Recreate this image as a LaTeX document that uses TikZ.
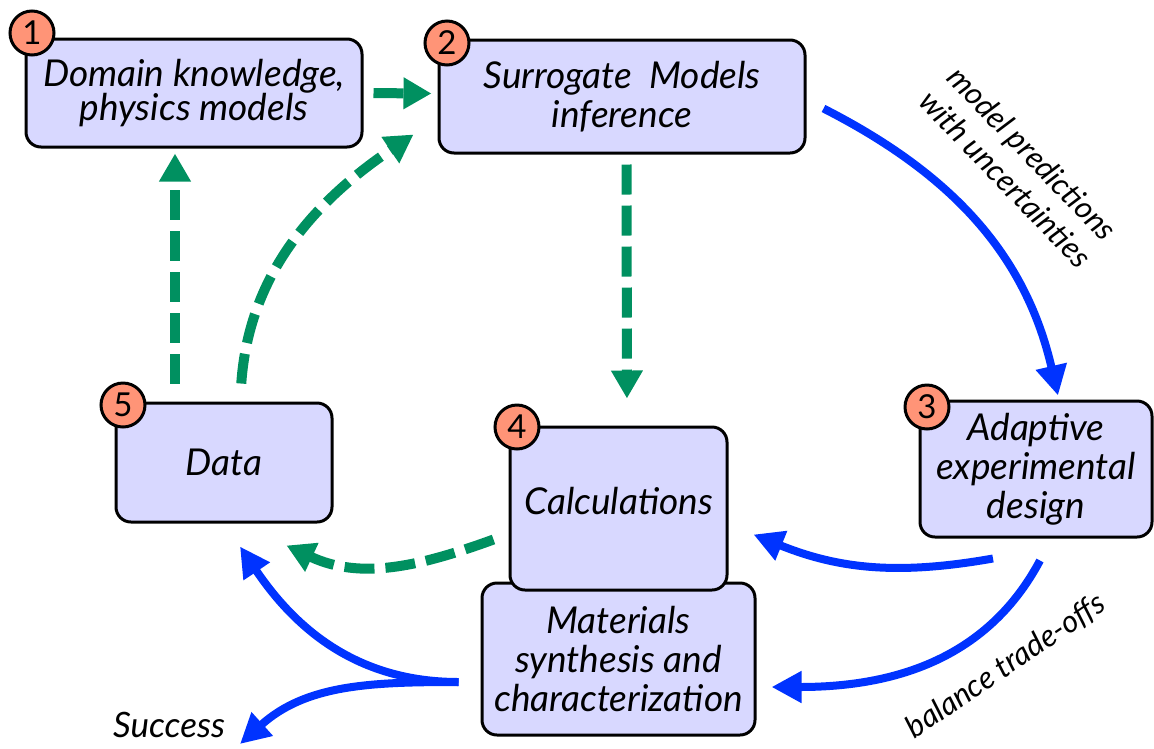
\documentclass[tikz,border=0pt]{standalone}
\usepackage{fontspec}
\setmainfont{Lato}
\usetikzlibrary{arrows.meta}
\definecolor{boxfill}{HTML}{D8D8FF}
\definecolor{badgefill}{HTML}{FF9477}
\definecolor{flowgreen}{HTML}{009060}
\definecolor{flowblue}{HTML}{0033FF}
\begin{document}
\begin{tikzpicture}[x=1pt,y=-1pt,
  stage/.style={draw=black, line width=3pt, fill=boxfill, rounded corners=15pt,
    align=center, inner sep=0pt, font=\fontsize{37}{39}\selectfont\itshape},
  badge/.style={circle, draw=black, line width=3pt, fill=badgefill,
    minimum size=44pt, inner sep=0pt, font=\fontsize{33}{33}\selectfont},
  gflow/.style={draw=flowgreen, line width=10pt, dash pattern=on 30pt off 11pt,
    -{Triangle[length=28pt,width=30pt]}},
  bflow/.style={draw=flowblue, line width=8pt,
    -{Triangle[length=30pt,width=30pt]}},
  note/.style={font=\fontsize{31}{37}\selectfont\itshape, align=center, inner sep=0pt}
  ]
\useasboundingbox (0,0) rectangle (1154,748);

% stages
\node[stage, minimum width=336pt, minimum height=108pt, font=\fontsize{37}{34}\selectfont\itshape] (b1) at (194,93) {Domain knowledge,\\physics models};
\node[stage, minimum width=366pt, minimum height=113pt] (b2) at (622,96.5) {Surrogate\ \ Models\\inference};
\node[stage, minimum width=232pt, minimum height=136pt] (b3) at (1036,469) {Adaptive\\experimental\\design};
\node[stage, minimum width=273pt, minimum height=152pt] (b6) at (618.5,659) {Materials\\synthesis and\\characterization};
\node[stage, minimum width=217pt, minimum height=163pt] (b4) at (618.5,508.5) {\raisebox{16pt}{Calculations}};
\node[stage, minimum width=216pt, minimum height=119pt] (b5) at (224,462.5) {Data};

% numbered badges
\node[badge] (n1) at (32,33) {1};
\node[badge] (n2) at (447,43) {2};
\node[badge] (n3) at (927,407) {3};
\node[badge] (n4) at (517,427) {4};
\node[badge] (n5) at (123,405) {5};

% knowledge / data flow
\draw[gflow, shorten <=10pt] (b1.east) -- ([shift={(-6,-3)}]b2.west);
\draw[gflow, shorten <=18pt, shorten >=5pt] ([xshift=-49pt]b5.north) -- ([xshift=-19pt]b1.south);
\draw[gflow, shorten <=18pt] ([xshift=16pt]b5.north) to[out=86, in=-146] ([shift={(-24,-20)}]b2.south west);
\draw[gflow, shorten <=10pt, shorten >=27pt] ([xshift=4.5pt]b2.south) -- ([xshift=8.5pt]b4.north);
\draw[gflow] ([shift={(-15,31)}]b4.west) to[out=200, in=-25] ([shift={(-47,22)}]b5.south east);

% experimental loop
\draw[bflow] ([shift={(17,12)}]b2.east) to[out=-27, in=103] ([shift={(22,-4)}]b3.north);
\draw[bflow] ([shift={(-43,20)}]b3.south) to[out=190, in=-22] ([shift={(25,26)}]b4.east);
\draw[bflow] ([shift={(4,22)}]b3.south) to[out=-118, in=0] ([shift={(15,28)}]b6.east);
\coordinate (split) at ([shift={(-22,23)}]b6.west);
\draw[bflow] (split) to[out=180, in=-56] ([shift={(16,23)}]b5.south);
\coordinate (done) at (240,744);
\draw[bflow] (split) to[out=180, in=42] (done);

% labels
\node[note, rotate=-46] (lab1) at (1019,166) {model predictions\\with uncertainties};
\node[note, rotate=34] (lab2) at (1006,666) {balance trade-offs};
\node[note, font=\fontsize{35}{36}\selectfont\itshape] (lab3) at (169,725) {Success};
\end{tikzpicture}
\end{document}
